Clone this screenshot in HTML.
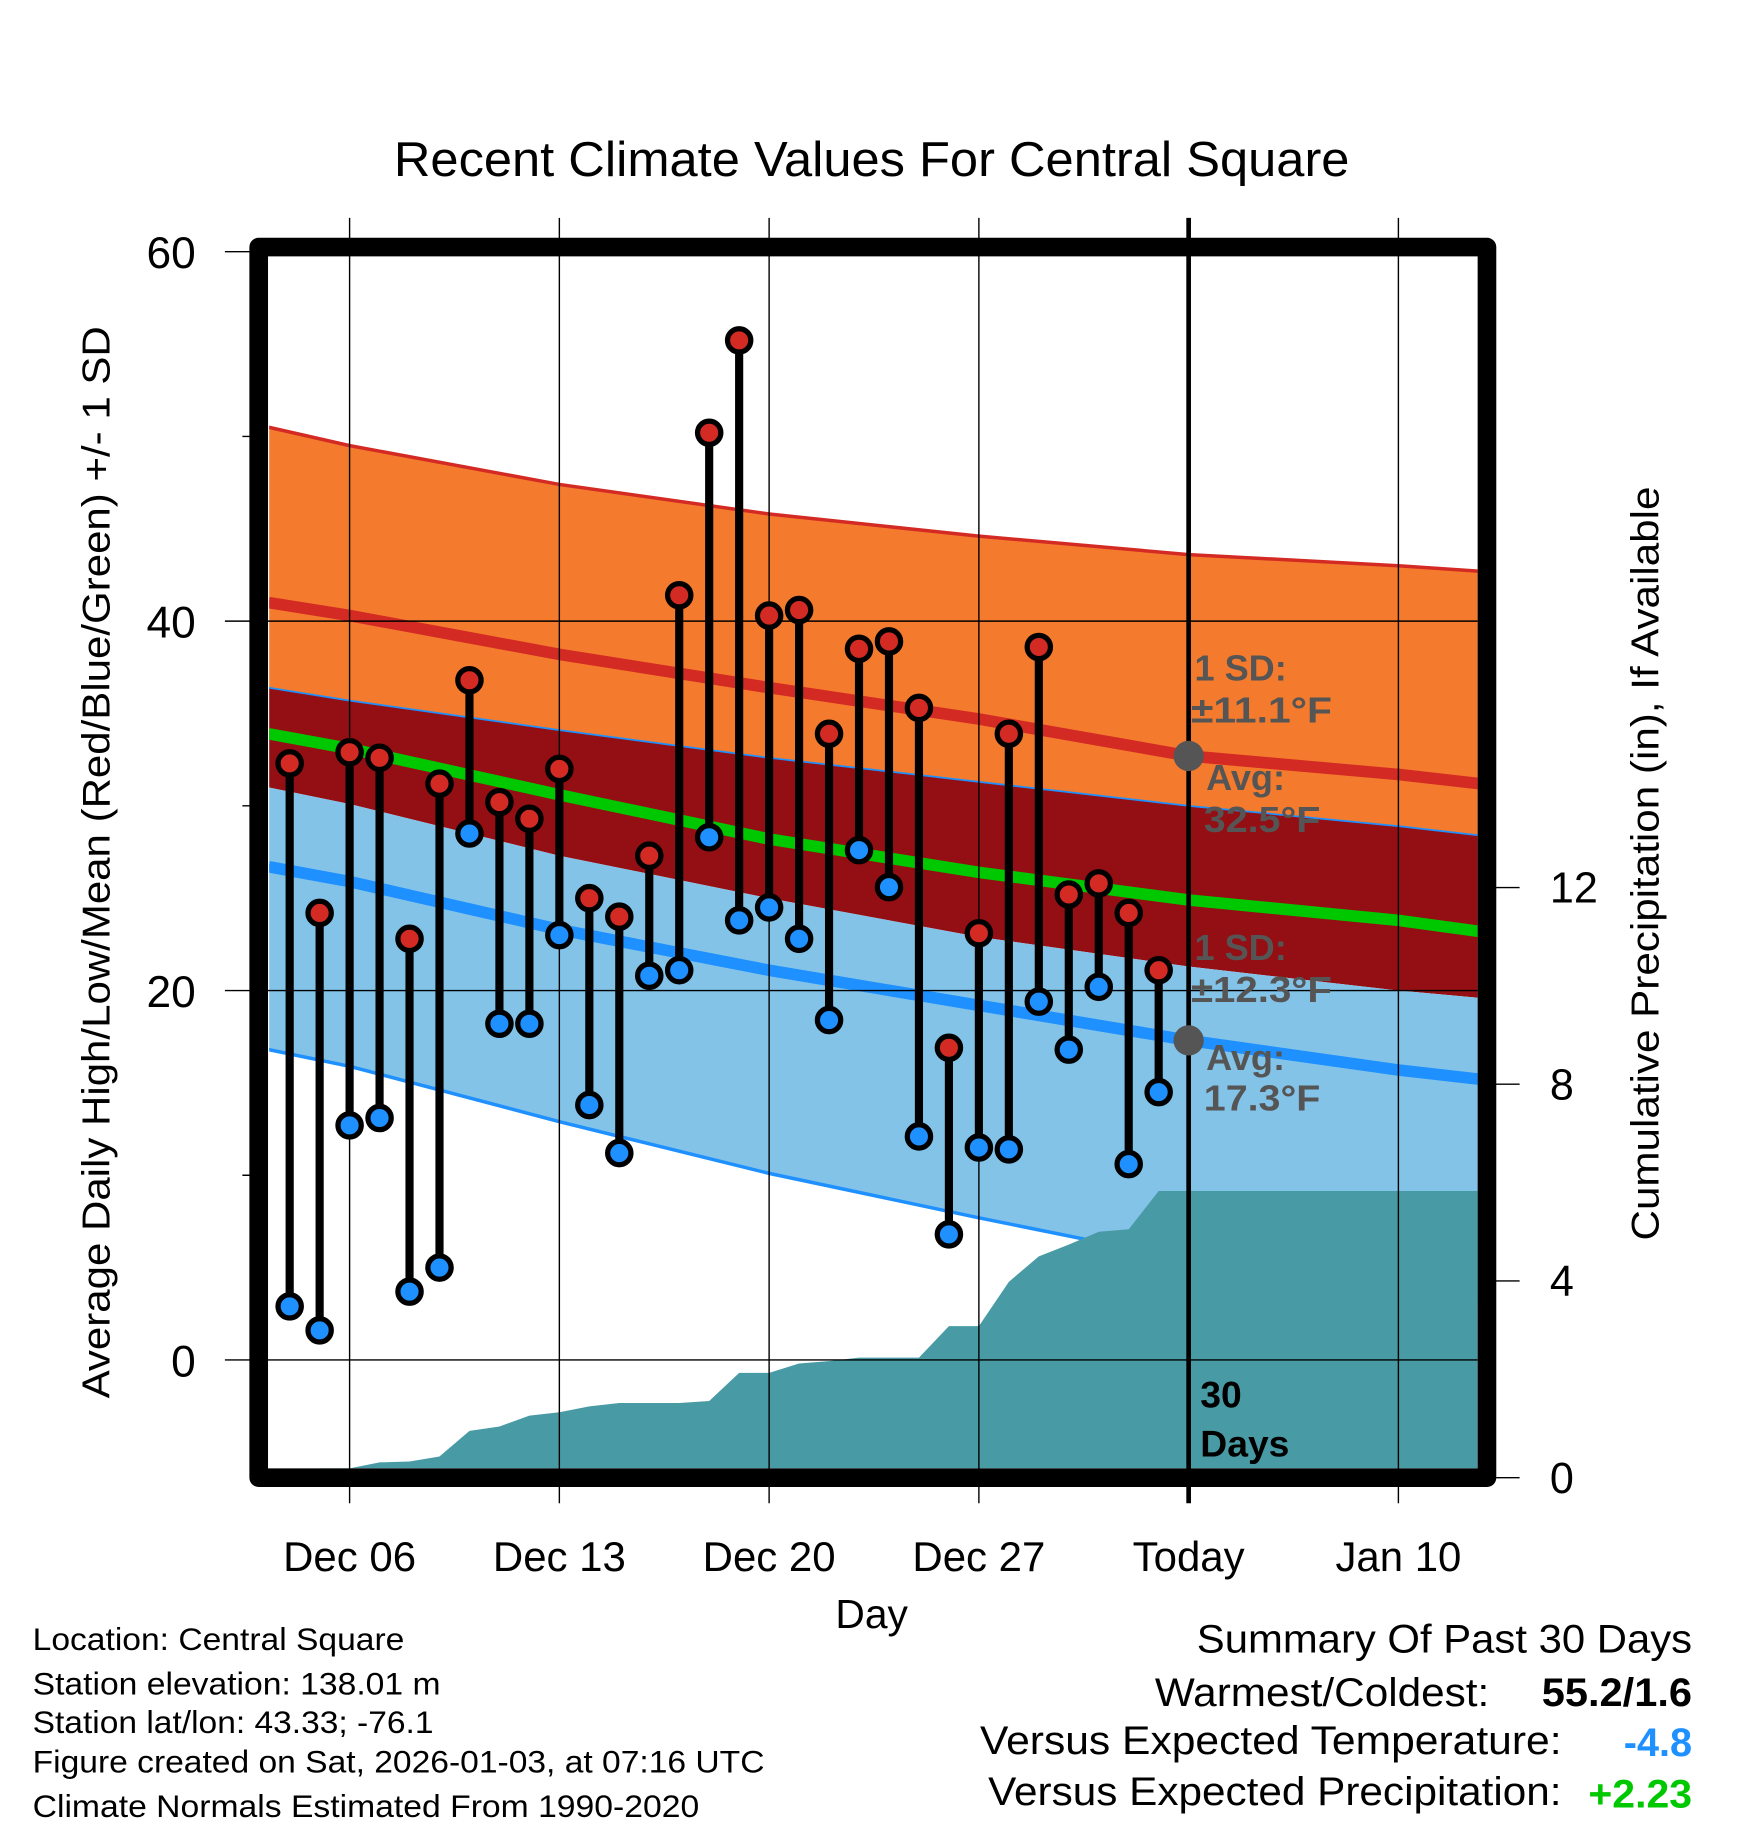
<!DOCTYPE html>
<html><head><meta charset="utf-8"><style>html,body{margin:0;padding:0;background:#fff}svg{display:block}</style></head>
<body>
<svg id="chart" xmlns="http://www.w3.org/2000/svg" width="1748" height="1828" viewBox="0 0 1500 1568.65" preserveAspectRatio="none" font-family="'Liberation Sans', Arial, sans-serif">
<text x="748" y="151" font-size="42" text-anchor="middle" textLength="820" lengthAdjust="spacingAndGlyphs">Recent Climate Values For Central Square</text>
<g id="plot"></g>
<text x="748" y="1397" font-size="35" text-anchor="middle">Day</text>
<text transform="translate(94,740) rotate(-90)" font-size="33" text-anchor="middle" textLength="920" lengthAdjust="spacingAndGlyphs">Average Daily High/Low/Mean (Red/Blue/Green) +/- 1 SD</text>
<text transform="translate(1423,741) rotate(-90)" font-size="33" text-anchor="middle" textLength="647" lengthAdjust="spacingAndGlyphs">Cumulative Precipitation (in), If Available</text>
<g font-size="27">
<text x="28" y="1416" textLength="319" lengthAdjust="spacingAndGlyphs">Location: Central Square</text>
<text x="28" y="1454" textLength="350" lengthAdjust="spacingAndGlyphs">Station elevation: 138.01 m</text>
<text x="28" y="1487" textLength="344" lengthAdjust="spacingAndGlyphs">Station lat/lon: 43.33; -76.1</text>
<text x="28" y="1521" textLength="628" lengthAdjust="spacingAndGlyphs">Figure created on Sat, 2026-01-03, at 07:16 UTC</text>
<text x="28" y="1559" textLength="572" lengthAdjust="spacingAndGlyphs">Climate Normals Estimated From 1990-2020</text>
</g>
<g font-size="34">
<text x="1027" y="1418" textLength="425" lengthAdjust="spacingAndGlyphs">Summary Of Past 30 Days</text>
<text x="991" y="1464" textLength="287" lengthAdjust="spacingAndGlyphs">Warmest/Coldest:</text>
<text x="1323" y="1464" font-weight="bold" textLength="129" lengthAdjust="spacingAndGlyphs">55.2/1.6</text>
<text x="841" y="1505" textLength="499" lengthAdjust="spacingAndGlyphs">Versus Expected Temperature:</text>
<text x="1452" y="1507" text-anchor="end" font-weight="bold" fill="#1e90ff">-4.8</text>
<text x="848" y="1549" textLength="492" lengthAdjust="spacingAndGlyphs">Versus Expected Precipitation:</text>
<text x="1363" y="1551" font-weight="bold" fill="#00c800" textLength="89" lengthAdjust="spacingAndGlyphs">+2.23</text>
</g>
</svg>
<script>
// data
const highs=[32.3,24.2,32.9,32.6,22.8,31.2,36.8,30.2,29.3,32.0,25.0,24.0,27.3,41.4,50.2,55.2,40.3,40.6,33.9,38.5,38.9,35.3,16.9,23.1,33.9,38.6,25.2,25.8,24.2,21.1];
const lows=[2.9,1.6,12.7,13.1,3.7,5.0,28.5,18.2,18.2,23.0,13.8,11.2,20.8,21.1,28.3,23.8,24.5,22.8,18.4,27.6,25.6,12.1,6.8,11.5,11.4,19.4,16.8,20.2,10.6,14.5];
const firstDay=-2; // Dec 4 relative to Dec 06
const normDays=[-2.7,0,7,14,21,28,35,37.7];
const orangeTop=[50.5,49.5,47.4,45.8,44.6,43.6,43.0,42.7];
const highAvg=[41.0,40.3,38.2,36.4,34.7,32.7,31.7,31.2];
const meanTop=[36.4,35.7,34.1,32.6,31.3,30.0,28.9,28.4];
const meanAvg=[33.9,33.1,30.6,28.2,26.4,24.9,23.8,23.2];
const meanBot=[31.0,30.1,27.3,25.0,22.9,21.3,20.0,19.6];
const lowAvg=[26.7,25.9,23.3,21.1,19.2,17.3,15.7,15.2];
const lowBot=[16.8,15.9,12.9,10.1,7.7,5.4,3.6,3.0];
const precip=[0,0.19,0.31,0.33,0.43,0.95,1.04,1.26,1.33,1.45,1.52,1.52,1.52,1.56,2.13,2.13,2.32,2.37,2.44,2.44,2.44,3.08,3.08,3.98,4.50,4.74,5.00,5.05,5.83,5.83];
const precipFirstDay=-1;
const xTickDays=[0,7,14,21,28,35];
const xTickLabels=['Dec 06','Dec 13','Dec 20','Dec 27','Today','Jan 10'];
const yTicks=[0,20,40,60];
const y2Ticks=[0,4,8,12];

const NS='http://www.w3.org/2000/svg';
const L=231,R=1268,T=220,B=1260;
const X=d=>300+d*(180/7);
const Y=v=>1167-v*15.85;
const Y2=v=>1268-v*42.2;
const g=document.getElementById('plot');
function el(tag,attrs,parent){const e=document.createElementNS(NS,tag);for(const k in attrs)e.setAttribute(k,attrs[k]);(parent||g).appendChild(e);return e;}
function curve(arr){return normDays.map((d,i)=>X(d).toFixed(1)+','+Y(arr[i]).toFixed(1));}
const clip=el('clipPath',{id:'pc'});el('rect',{x:L,y:T,width:R-L,height:B-T},clip);
const inner=el('g',{'clip-path':'url(#pc)'});
function bandIn(top,bot,fill,name){const p=curve(top).concat(curve(bot).reverse());const e=el('polygon',{points:p.join(' '),fill:fill},inner);

}
function lineIn(arr,color,w,name){const e=el('polyline',{points:curve(arr).join(' '),fill:'none',stroke:color,'stroke-width':w},inner);

}
bandIn(orangeTop,meanTop,'#f47b2d','high-sd-band');
bandIn(meanTop,meanBot,'#930f13','mean-sd-band');
bandIn(meanBot,lowBot,'#83c3e8','low-sd-band');
lineIn(orangeTop,'#d42a24',3,'high-plus-sd-line');
lineIn(highAvg,'#d42a24',10,'high-avg-line');
lineIn(meanTop,'#1e90ff',1.5,'mean-plus-sd-line');
lineIn(meanAvg,'#00c800',10,'mean-avg-line');
lineIn(lowAvg,'#1e90ff',10,'low-avg-line');
lineIn(lowBot,'#1e90ff',3,'low-minus-sd-line');
// precip
let pp=[];precip.forEach((v,i)=>{pp.push(X(precipFirstDay+i).toFixed(1)+','+Y2(v).toFixed(1));});
pp.push(R+','+Y2(precip[precip.length-1]).toFixed(1));pp.push(R+','+B);pp.push(X(precipFirstDay)+','+B);
const pa=el('polygon',{points:pp.join(' '),fill:'#489ba5'},inner);


// grid
xTickDays.forEach((d,i)=>{const ln=el('line',{x1:X(d),x2:X(d),y1:187,y2:1290,stroke:'#000','stroke-width':i==4?4:1.2});


const t=el('text',{x:X(d),y:1348,'font-size':36,'text-anchor':'middle'});t.textContent=xTickLabels[i];

});
yTicks.forEach(v=>{const ln=el('line',{x1:193,x2:v==60?222:R,y1:Y(v),y2:Y(v),stroke:'#000','stroke-width':1.2});


const t=el('text',{x:168,y:Y(v)+14,'font-size':38,'text-anchor':'end'});t.textContent=v;

});
[10,30,50].forEach(v=>{el('line',{x1:208,x2:222,y1:Y(v),y2:Y(v),stroke:'#000','stroke-width':1.2});});
y2Ticks.forEach(v=>{el('line',{x1:1276,x2:1304,y1:Y2(v),y2:Y2(v),stroke:'#000','stroke-width':1.2});
const t=el('text',{x:1330,y:Y2(v)+13,'font-size':37});t.textContent=v;

});
// annotations
[[572,'1 SD:',1025,0],[608,'±11.1°F',1022,121],[666,'Avg:',1035,0],[702,'32.5°F',1033,100],[812,'1 SD:',1025,0],[848,'±12.3°F',1022,121],[906,'Avg:',1035,0],[941,'17.3°F',1033,100]].forEach(a=>{const at={x:a[2],y:a[0]+12,'font-size':31,'font-weight':'bold',fill:'#555'};if(a[3]){at.textLength=a[3];at.lengthAdjust='spacingAndGlyphs';}const t=el('text',at);t.textContent=a[1];

});
[highAvg[5],lowAvg[5]].forEach(v=>{const c=el('circle',{cx:X(28),cy:Y(v),r:13,fill:'#555'});

});
[[1208,'30'],[1250,'Days']].forEach(a=>{const t=el('text',{x:1030,y:a[0],'font-size':32,'font-weight':'bold'});t.textContent=a[1];

});
// daily bars
highs.forEach((h,i)=>{const x=X(firstDay+i);const s=el('line',{x1:x,x2:x,y1:Y(h),y2:Y(lows[i]),stroke:'#000','stroke-width':7});


const c1=el('circle',{cx:x,cy:Y(h),r:10,fill:'#d42a24',stroke:'#000','stroke-width':4.5});


const c2=el('circle',{cx:x,cy:Y(lows[i]),r:10,fill:'#1e90ff',stroke:'#000','stroke-width':4.5});

});
const fr=el('rect',{x:222,y:212,width:1054,height:1056,fill:'none',stroke:'#000','stroke-width':16,'stroke-linejoin':'round'});


</script>
</body></html>
